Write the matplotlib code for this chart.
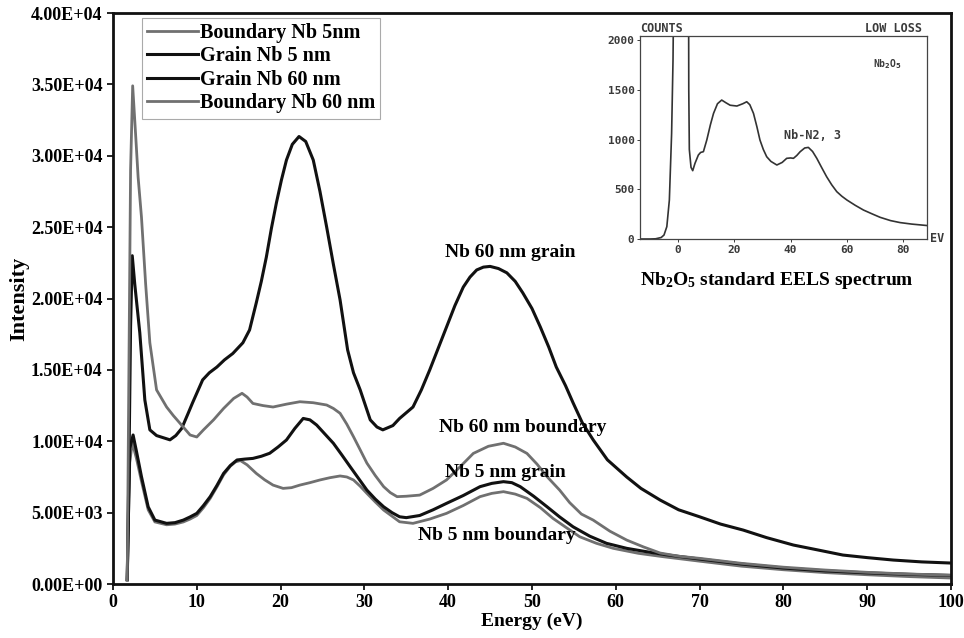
import numpy as np
import matplotlib.pyplot as plt

plt.rcParams['font.family'] = ['Liberation Serif', 'DejaVu Serif']
plt.rcParams['font.weight'] = 'bold'
plt.rcParams['mathtext.fontset'] = 'custom'
plt.rcParams['mathtext.bf'] = 'Liberation Serif:bold'
plt.rcParams['mathtext.rm'] = 'Liberation Serif:bold'

# EELS low-loss spectra (energy in eV, intensity in counts)
b5_x = [1.7, 1.85, 2.0, 2.3, 2.8, 3.4, 4.2, 5.0, 6.4, 7.4, 8.4, 9.2, 10.0, 10.8, 11.6, 12.4,
        13.2, 14.0, 14.6, 15.2, 16.0, 17.1, 18.1, 19.1, 20.3, 21.3, 22.3, 23.5, 24.7, 25.9,
        27.1, 27.9, 28.7, 29.5, 30.3, 31.3, 32.3, 33.3, 34.2, 35.8, 37.8, 39.8, 41.8, 43.8,
        45.2, 46.6, 48.0, 49.4, 51.0, 52.5, 54.1, 55.7, 57.7, 59.7, 62.7, 65.7, 70, 75, 80,
        85, 90, 95, 100]
b5_y = [300, 4500, 8500, 9900, 8800, 7200, 5200, 4350, 4150, 4200, 4350, 4550, 4800, 5350,
        6000, 6800, 7650, 8250, 8550, 8650, 8350, 7750, 7300, 6930, 6700, 6750, 6930, 7100,
        7290, 7450, 7570, 7500, 7290, 6850, 6350, 5750, 5180, 4750, 4360, 4250, 4550, 4950,
        5500, 6120, 6350, 6470, 6300, 6000, 5350, 4600, 3950, 3310, 2850, 2500, 2150, 1910,
        1600, 1250, 1000, 800, 650, 520, 420]

g5_x = [1.7, 1.85, 2.0, 2.4, 2.8, 3.4, 4.2, 5.0, 6.4, 7.4, 8.4, 9.2, 10.0, 10.8, 11.6, 12.4,
        13.2, 14.0, 14.8, 15.7, 16.7, 17.7, 18.7, 19.7, 20.7, 21.7, 22.7, 23.5, 24.3, 25.3,
        26.3, 27.3, 28.3, 29.3, 30.3, 31.3, 32.3, 33.3, 34.2, 35.0, 36.6, 38.2, 39.8, 41.8,
        43.8, 45.2, 46.6, 47.6, 48.6, 50.2, 51.8, 53.3, 54.9, 56.9, 58.9, 61.3, 63.7, 66.0,
        70, 75, 80, 85, 90, 95, 100]
g5_y = [300, 5000, 9500, 10440, 9300, 7520, 5410, 4480, 4250, 4300, 4480, 4700, 4950, 5500,
        6120, 6900, 7750, 8300, 8690, 8750, 8800, 8950, 9160, 9600, 10090, 10900, 11600,
        11500, 11140, 10500, 9860, 9050, 8220, 7400, 6580, 5950, 5410, 5000, 4710, 4650,
        4800, 5200, 5650, 6200, 6820, 7050, 7170, 7100, 6820, 6150, 5410, 4700, 4010, 3350,
        2850, 2500, 2260, 2050, 1750, 1400, 1120, 920, 780, 680, 600]

g60_x = [1.7, 1.9, 2.1, 2.3, 2.6, 3.2, 3.8, 4.4, 5.2, 6.0, 6.8, 7.5, 8.2, 9.0, 9.5, 10.7,
         11.5, 12.4, 13.3, 14.3, 15.5, 16.3, 17.1, 17.7, 18.3, 18.9, 19.5, 20.1, 20.7, 21.4,
         22.2, 23.0, 23.9, 24.7, 25.5, 26.3, 27.1, 28.0, 28.7, 29.5, 30.7, 31.5, 32.2, 33.4,
         34.2, 35.0, 35.8, 36.8, 37.8, 38.8, 39.8, 40.8, 41.8, 42.6, 43.4, 44.2, 45.0, 46.0,
         47.0, 48.0, 48.9, 50.0, 51.0, 52.0, 52.9, 54.0, 54.9, 56.0, 57.3, 59.0, 61.3, 63.0,
         65.3, 67.5, 70.0, 72.5, 75.2, 78.0, 81.2, 84.0, 87.1, 90.0, 93.1, 96.5, 100]
g60_y = [300, 8000, 18000, 23000, 21000, 17600, 12900, 10800, 10400, 10250, 10100, 10400,
         10900, 12000, 12700, 14300, 14800, 15200, 15700, 16150, 16900, 17800, 19700, 21200,
         22900, 24900, 26700, 28300, 29700, 30800, 31350, 31000, 29700, 27500, 25000, 22400,
         19900, 16400, 14800, 13600, 11500, 11000, 10800, 11100, 11600, 12000, 12400, 13600,
         15000, 16500, 18000, 19500, 20800, 21500, 22000, 22200, 22250, 22100, 21800, 21200,
         20400, 19300, 18000, 16600, 15200, 13900, 12700, 11300, 10100, 8700, 7500, 6700,
         5880, 5200, 4710, 4200, 3780, 3250, 2730, 2400, 2030, 1850, 1680, 1550, 1470]

b60_x = [1.7, 1.9, 2.1, 2.35, 2.7, 3.0, 3.4, 3.9, 4.4, 5.2, 6.4, 7.2, 8.0, 9.2, 10.0, 10.8,
         12.0, 13.2, 14.4, 15.4, 16.0, 16.7, 17.9, 19.1, 20.7, 22.3, 23.9, 25.5, 26.3, 27.1,
         27.9, 28.7, 29.5, 30.3, 31.3, 32.3, 33.1, 33.9, 35.0, 36.6, 38.2, 39.8, 41.4, 43.0,
         44.8, 46.6, 48.0, 49.4, 50.6, 51.8, 53.3, 54.5, 55.9, 57.3, 59.3, 61.3, 63.3, 65.3,
         67.5, 70.0, 75.0, 80.0, 85.0, 90.0, 95.0, 100]
b60_y = [300, 15000, 29000, 34900, 31500, 28500, 25700, 21000, 16900, 13600, 12400, 11800,
         11260, 10440, 10300, 10800, 11500, 12300, 13000, 13360, 13100, 12650, 12500, 12400,
         12600, 12770, 12700, 12540, 12300, 11960, 11200, 10320, 9400, 8470, 7600, 6820, 6400,
         6120, 6150, 6230, 6700, 7290, 8200, 9150, 9650, 9860, 9600, 9150, 8400, 7520, 6580,
         5700, 4900, 4480, 3700, 3080, 2600, 2170, 1950, 1800, 1450, 1180, 980, 820, 700, 620]

# Nb2O5 reference spectrum (inset)
ref_x = [-13.5, -10, -8, -6, -5, -4, -3.1, -2.3, -1.8, -1.4, 3.7, 3.8, 4.0, 4.6, 5.2, 6.0,
         7.2, 8.0, 9.0, 10.2, 11.5, 12.6, 14.0, 15.5, 17.0, 18.5, 20.9, 23.0, 24.4, 25.5,
         26.8, 28.0, 29.1, 30.3, 31.5, 33.0, 35.1, 37.0, 38.6, 40.0, 41.0, 42.2, 43.4, 45.0,
         46.3, 47.8, 49.3, 51.0, 52.8, 54.6, 56.4, 58.2, 60.0, 63.0, 65.9, 69.0, 71.8, 75.5,
         78.9, 83.0, 88.6]
ref_y = [0, 0, 2, 15, 40, 124, 392, 1060, 1800, 3000, 3000, 1500, 900, 720, 687, 760, 844,
         870, 878, 995, 1150, 1263, 1360, 1397, 1370, 1345, 1337, 1360, 1380, 1350, 1263,
         1130, 995, 900, 827, 780, 744, 770, 811, 815, 811, 840, 878, 915, 921, 880, 811,
         720, 626, 545, 476, 430, 392, 338, 291, 252, 218, 185, 165, 150, 135]

black = '#111111'
gray = '#707070'
mono = '#3a3a3a'

fig = plt.figure(figsize=(9.64, 6.38), dpi=100)
ax = fig.add_axes([0.1172, 0.0846, 0.8693, 0.895])

ax.plot(b5_x, b5_y, color=gray, lw=2.0, label='Boundary Nb 5nm')
ax.plot(g5_x, g5_y, color=black, lw=2.2, label='Grain Nb 5 nm')
ax.plot(g60_x, g60_y, color=black, lw=2.2, label='Grain Nb 60 nm')
ax.plot(b60_x, b60_y, color=gray, lw=2.0, label='Boundary Nb 60 nm')

ax.set_xlim(0, 100)
ax.set_ylim(0, 40000)
ax.set_xticks(np.arange(0, 101, 10))
ax.set_yticks(np.arange(0, 40001, 5000))
ax.set_yticklabels(['%.2E' % v for v in np.arange(0, 40001, 5000)])
ax.tick_params(direction='out', length=4, width=1.2, labelsize=13)
for s in ax.spines.values():
    s.set_linewidth(2.0)
    s.set_color(black)

ax.set_xlabel('Energy (eV)', fontsize=14, fontweight='bold', labelpad=1)
ax.set_ylabel('Intensity', fontsize=16, fontweight='bold', labelpad=1)

leg = ax.legend(loc='upper left', bbox_to_anchor=(0.035, 0.992), fontsize=14.5,
                handlelength=2.5, handletextpad=0.1, labelspacing=0.18,
                borderpad=0.25, borderaxespad=0, fancybox=False, framealpha=1)
leg.get_frame().set_edgecolor('#aaaaaa')
leg.get_frame().set_linewidth(0.8)

ax.text(47.4, 23190, 'Nb 60 nm grain', fontsize=14, ha='center', va='center')
ax.text(48.9, 10930, 'Nb 60 nm boundary', fontsize=14, ha='center', va='center')
ax.text(46.8, 7780, 'Nb 5 nm grain', fontsize=14, ha='center', va='center')
ax.text(45.8, 3430, 'Nb 5 nm boundary', fontsize=14, ha='center', va='center')

# inset: standard spectrum
ins = fig.add_axes([0.664, 0.6254, 0.298, 0.318])
ins.plot(ref_x, ref_y, color='#333333', lw=1.2)
ins.set_xlim(-13.5, 88.6)
ins.set_ylim(0, 2040)
ins.set_xticks([0, 20, 40, 60, 80])
ins.set_yticks([0, 500, 1000, 1500, 2000])
ins.tick_params(length=2, width=0.7, labelsize=8, colors=mono, pad=2)
for lab in ins.get_xticklabels() + ins.get_yticklabels():
    lab.set_family('DejaVu Sans Mono')
    lab.set_fontweight('bold')
for s in ins.spines.values():
    s.set_linewidth(0.9)
    s.set_color('#444444')
kw = dict(family='DejaVu Sans Mono', fontweight='bold', color=mono)
ins.text(0.0, 1.005, 'COUNTS', transform=ins.transAxes, fontsize=8.5, va='bottom', ha='left', **kw)
ins.text(0.98, 1.005, 'LOW LOSS', transform=ins.transAxes, fontsize=8.5, va='bottom', ha='right', **kw)
ins.text(0.86, 0.86, 'Nb$_2$O$_5$', transform=ins.transAxes, fontsize=7, ha='center', va='center',
         math_fontfamily='dejavusans', **kw)
ins.text(0.6, 0.51, 'Nb-N2, 3', transform=ins.transAxes, fontsize=8.5, ha='center', va='center', **kw)
ins.text(1.01, 0.0, 'EV', transform=ins.transAxes, fontsize=8.5, ha='left', va='center', **kw)

fig.text(777 / 964, 1 - 280 / 638, r'$\mathbf{Nb_2O_5}$ standard EELS spectrum',
         fontsize=14, fontweight='bold', ha='center', va='center')

fig.savefig('out.png', dpi=100)
